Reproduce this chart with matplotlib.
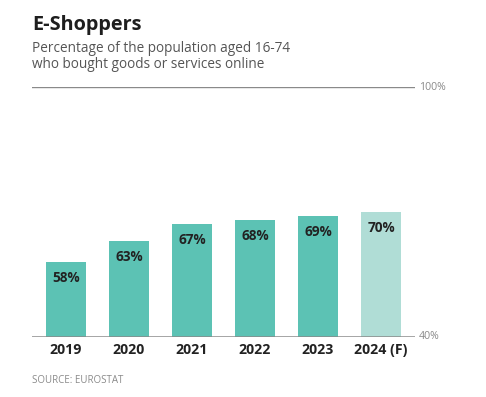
import numpy as np
import matplotlib.pyplot as plt

plt.rcParams['font.family'] = ['Open Sans', 'DejaVu Sans']

years = ['2019', '2020', '2021', '2022', '2023', '2024 (F)']
values = [58, 63, 67, 68, 69, 70]
forecast = [False, False, False, False, False, True]

BAR_COLOR = '#5cc2b4'
FORECAST_COLOR = '#b0ddd6'
LINE_COLOR = '#8a8a8a'

fig = plt.figure(figsize=(4.86, 3.97), dpi=100)
ax = fig.add_axes([32 / 486, (397 - 336.5) / 397, (415 - 32) / 486, (336.5 - 87) / 397])

x = np.arange(len(years))
colors = [FORECAST_COLOR if f else BAR_COLOR for f in forecast]
ax.bar(x, values, width=0.635, bottom=0, color=colors, zorder=2)

ax.set_ylim(40, 100)
ax.set_xlim(-0.54, len(years) - 1 + 0.54)
ax.axhline(100, color=LINE_COLOR, lw=1.0, zorder=3)
ax.axhline(40, color=LINE_COLOR, lw=1.8, zorder=3)

# value labels inside bar tops
for xi, v in zip(x, values):
    ax.annotate(f'{v}%', (xi, v), xytext=(0, -11.5), textcoords='offset points',
                ha='center', va='center', fontsize=9.8, fontweight='bold', color='#222222')

for xi, lab in zip(x, years):
    ax.annotate(lab, (xi, 40), xytext=(0, -10), textcoords='offset points',
                ha='center', va='center', fontsize=10.2, fontweight='bold', color='#222222')

ax.annotate('100%', (1, 100), xycoords=('axes fraction', 'data'), xytext=(3, 0),
            textcoords='offset points', ha='left', va='center', fontsize=7.6, color='#8a8a8a')
ax.annotate('40%', (1, 40), xycoords=('axes fraction', 'data'), xytext=(3, 0),
            textcoords='offset points', ha='left', va='center', fontsize=7.6, color='#8a8a8a')

ax.axis('off')

fig.text(32 / 486, 1 - 30 / 397, 'E-Shoppers', fontsize=14.3, fontweight='bold',
         color='#1e1e1e', ha='left', va='baseline')
fig.text(32 / 486, 1 - 52 / 397, 'Percentage of the population aged 16-74', fontsize=9.8,
         color='#555555', ha='left', va='baseline')
fig.text(32 / 486, 1 - 68.5 / 397, 'who bought goods or services online', fontsize=9.8,
         color='#555555', ha='left', va='baseline')
fig.text(32 / 486, 1 - 383 / 397, 'SOURCE: EUROSTAT', fontsize=7,
         color='#8a8a8a', ha='left', va='baseline')

fig.savefig('out.png', dpi=100)
